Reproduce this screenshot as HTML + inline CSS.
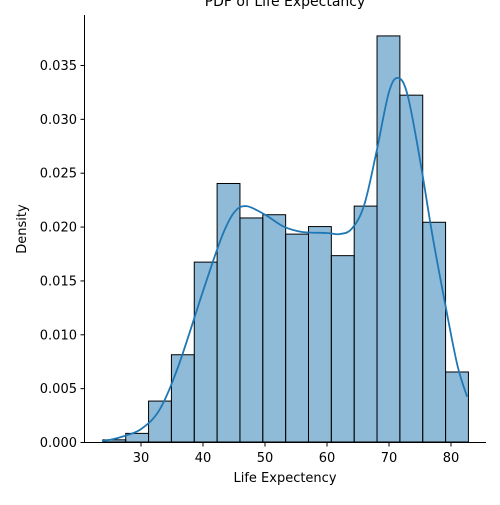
<!DOCTYPE html>
<html><head><meta charset="utf-8"><style>
html,body{margin:0;padding:0;background:#fff;}
svg{font-family:"DejaVu Sans","Liberation Sans",sans-serif;}
</style></head><body>
<svg id="chart" width="500" height="500" viewBox="0 0 500 500">
<text x="285" y="6" font-size="14" text-anchor="middle">PDF of Life Expectancy</text>
<g id="bars"></g>
<g id="kde"></g>
<g id="axes"></g>
<text x="285" y="482" font-size="13" text-anchor="middle">Life Expectency</text>
<text x="26" y="229" font-size="13" text-anchor="middle" transform="rotate(-90 26 229)">Density</text>
</svg>
<script>
const binStart = 23.85;
const binWidth = 3.685;
const densities = [0.0002,0.0008,0.0038,0.0081,0.0167,0.0240,0.0208,0.0211,0.0193,0.0200,0.0173,0.0219,0.0377,0.0322,0.0204,0.0065];
const kdeX = [23.7,25,27,30,33,36,40,43,45,47,50,53,56,60,62,64,66,68,70,71.5,73,75,77,79,81,82.6];
const kdeY = [0.0001,0.0002,0.0005,0.0012,0.003,0.007,0.0140,0.0190,0.0213,0.0219,0.0211,0.0200,0.0195,0.0194,0.0193,0.0198,0.0220,0.0270,0.0325,0.0338,0.0322,0.0262,0.0192,0.0130,0.0072,0.0042];
const xTicks = [30,40,50,60,70,80];
const yTicks = [0,0.005,0.010,0.015,0.020,0.025,0.030,0.035];
const yTickLabels = ["0.000","0.005","0.010","0.015","0.020","0.025","0.030","0.035"];
const NS="http://www.w3.org/2000/svg";
const X = v => 141 + (v-30)*6.2;
const Y = v => 442 - v*(442-65)/0.035;
const bars=document.getElementById('bars'), kde=document.getElementById('kde'), axes=document.getElementById('axes');
function mk(tag, attrs, parent){const e=document.createElementNS(NS,tag);for(const k in attrs)e.setAttribute(k,attrs[k]);parent.appendChild(e);return e;}
densities.forEach((d,i)=>{
  const x0=X(binStart+i*binWidth), x1=X(binStart+(i+1)*binWidth);
  const r=mk('rect',{x:x0,y:Y(d),width:x1-x0,height:Y(0)-Y(d),fill:'rgba(31,119,180,0.5)',stroke:'#000','stroke-width':1},bars);
  
  
});
const pts=kdeX.map((x,i)=>[X(x),Y(kdeY[i])]);
let d='M'+pts[0][0].toFixed(1)+','+pts[0][1].toFixed(1);
for(let i=0;i<pts.length-1;i++){
  const p0=pts[Math.max(0,i-1)],p1=pts[i],p2=pts[i+1],p3=pts[Math.min(pts.length-1,i+2)];
  const c1=[p1[0]+(p2[0]-p0[0])/6,p1[1]+(p2[1]-p0[1])/6];
  const c2=[p2[0]-(p3[0]-p1[0])/6,p2[1]-(p3[1]-p1[1])/6];
  d+='C'+c1[0].toFixed(1)+','+c1[1].toFixed(1)+' '+c2[0].toFixed(1)+','+c2[1].toFixed(1)+' '+p2[0].toFixed(1)+','+p2[1].toFixed(1);
}
const p=mk('path',{d:d,fill:'none',stroke:'#1f77b4','stroke-width':1.8,'stroke-linejoin':'round'},kde);


const ax=mk('path',{d:'M84.5,15V442.5H486',fill:'none',stroke:'#000','stroke-width':1},axes);


xTicks.forEach(t=>{
  mk('line',{x1:X(t),x2:X(t),y1:442.5,y2:446.5,stroke:'#000'},axes);
  const tx=mk('text',{x:X(t),y:462,'font-size':13,'text-anchor':'middle'},axes);tx.textContent=t;
  
  
});
yTicks.forEach((t,i)=>{
  mk('line',{x1:80.5,x2:84.5,y1:Y(t)+0.5,y2:Y(t)+0.5,stroke:'#000'},axes);
  const tx=mk('text',{x:77,y:Y(t)+5,'font-size':13,'text-anchor':'end'},axes);tx.textContent=yTickLabels[i];
  
  
});
</script>
</body></html>
